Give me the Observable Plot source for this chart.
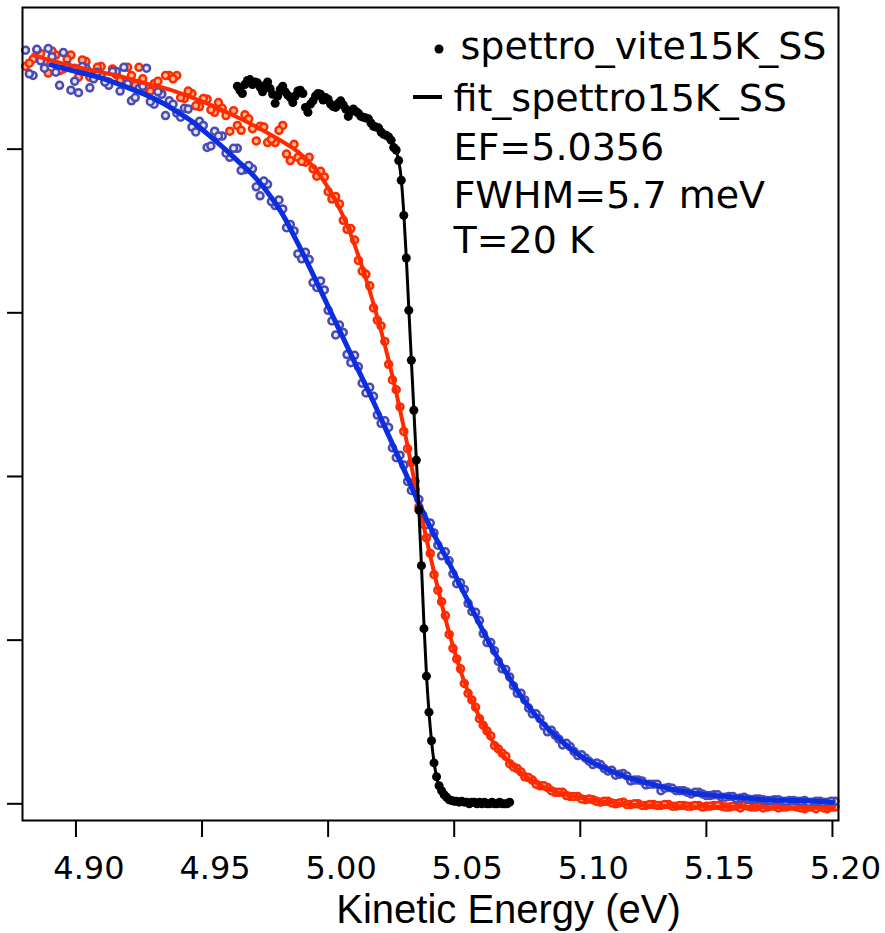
<!DOCTYPE html>
<html><head><meta charset="utf-8">
<script src="https://cdn.jsdelivr.net/npm/d3@7"></script>
<script src="https://cdn.jsdelivr.net/npm/@observablehq/plot@0.6"></script>
<style>
body{margin:0;background:#fff;}
#chart{width:885px;height:933px;}
</style></head><body><div id="chart"></div>
<script>
// ---- data (normalised intensity, tick spacing = 200) ----
const xTicks = [4.90, 4.95, 5.00, 5.05, 5.10, 5.15, 5.20];
const yTicks = [0, 200, 400, 600, 800];
const legendDataName = "spettro_vite15K_SS";
const legendFitName = "fit_spettro15K_SS";
const legendInfo = ["EF=5.0356", "FWHM=5.7 meV", "T=20 K"];
const xLabel = "Kinetic Energy (eV)";

// black: spettro_vite15K_SS (data) and its fit
const blackE = [4.964,4.965,4.966,4.967,4.968,4.969,4.970,4.971,4.972,4.973,4.974,4.975,4.976,4.977,4.978,4.979,4.980,4.981,4.982,4.983,4.984,4.985,4.986,4.987,4.988,4.989,4.990,4.991,4.992,4.993,4.994,4.995,4.996,4.997,4.998,4.999,5.000,5.001,5.002,5.003,5.004,5.005,5.006,5.007,5.008,5.009,5.010,5.011,5.012,5.013,5.014,5.015,5.016,5.017,5.018,5.019,5.020,5.021,5.022,5.023,5.024,5.025,5.026,5.027,5.028,5.029,5.030,5.031,5.032,5.033,5.034,5.035,5.036,5.037,5.038,5.039,5.040,5.041,5.042,5.043,5.044,5.045,5.046,5.047,5.048,5.049,5.050,5.051,5.052,5.053,5.054,5.055,5.056,5.057,5.058,5.059,5.060,5.061,5.062,5.063,5.064,5.065,5.066,5.067,5.068,5.069,5.070,5.071,5.072];
const blackI = [877,872,868,879,884,885,879,882,881,876,870,878,882,874,867,856,865,873,877,870,866,863,857,865,871,872,868,851,845,855,859,865,868,867,860,863,861,855,852,851,856,859,854,849,840,846,849,846,844,840,839,838,837,832,828,827,826,821,818,817,815,811,802,799,786,762,719,667,603,542,481,420,359,291,214,156,112,77,50,33,22,16,11,8,5,4,3,3,2,3,2,2,0,2,2,0,2,0,2,0,0,2,0,0,2,0,0,0,2];
const blackFitE = [5.026,5.027,5.028,5.029,5.030,5.031,5.032,5.033,5.034,5.035,5.036,5.037,5.038,5.039,5.040,5.041,5.042,5.043,5.044,5.045,5.046,5.048,5.050,5.055,5.072];
const blackFitI = [803,797,786,763,722,668,605,543,481,420,358,292,220,158,112,77,51,33,21,14,9,4,2,1,1];

// red and blue scans: two interleaved energy grids
const scanE = [4.880,4.883,4.886,4.889,4.892,4.895,4.898,4.901,4.904,4.907,4.910,4.913,4.916,4.919,4.922,4.925,4.928,4.931,4.934,4.937,4.940,4.943,4.946,4.949,4.952,4.955,4.958,4.961,4.964,4.967,4.970,4.973,4.976,4.979,4.982,4.985,4.988,4.991,4.994,4.997,5.000,5.003,5.006,5.009,5.012,5.015,5.018,5.021,5.024,5.027,5.030,5.033,5.036,5.039,5.042,5.045,5.048,5.051,5.054,5.057,5.060,5.063,5.066,5.069,5.072,5.075,5.078,5.081,5.084,5.087,5.090,5.093,5.096,5.099,5.102,5.105,5.108,5.111,5.114,5.117,5.120,5.123,5.126,5.129,5.132,5.135,5.138,5.141,5.144,5.147,5.150,5.153,5.156,5.159,5.162,5.165,5.168,5.171,5.174,5.177,5.180,5.183,5.186,5.189,5.192,5.195,5.198,5.201];
const scanE2 = [4.8815,4.8845,4.8875,4.8905,4.8935,4.8965,4.8995,4.9025,4.9055,4.9085,
  4.9115,4.9145,4.9175,4.9205,4.9235,4.9265,4.9295,4.9325,4.9355,4.9385,
  4.9415,4.9445,4.9475,4.9505,4.9535,4.9565,4.9595,4.9625,4.9655,4.9685,
  4.9715,4.9745,4.9775,4.9805,4.9835,4.9865,4.9895,4.9925,4.9955,4.9985,
  5.0015,5.0045,5.0075,5.0105,5.0135,5.0165,5.0195,5.0225,5.0255,5.0285,
  5.0315,5.0345,5.0375,5.0405,5.0435,5.0465,5.0495,5.0525,5.0555,5.0585,
  5.0615,5.0645,5.0675,5.0705,5.0735,5.0765,5.0795,5.0825,5.0855,5.0885,
  5.0915,5.0945,5.0975,5.1005,5.1035,5.1065,5.1095,5.1125,5.1155,5.1185,
  5.1215,5.1245,5.1275,5.1305,5.1335,5.1365,5.1395,5.1425,5.1455,5.1485,
  5.1515,5.1545,5.1575,5.1605,5.1635,5.1665,5.1695,5.1725,5.1755,5.1785,
  5.1815,5.1845,5.1875,5.1905,5.1935,5.1965,5.1995];
const blueI = [921,890,908,923,894,918,872,869,899,886,
  891,878,895,900,859,874,899,855,867,859,
  844,850,827,834,802,822,816,790,801,775,
  776,743,757,731,727,708,672,674,637,639,
  603,573,576,539,534,502,498,465,460,423,
  414,383,372,341,331,303,297,269,262,235,
  224,197,187,165,155,135,127,110,104,88,
  84,72,70,59,56,48,48,40,35,37,
  28,29,23,24,16,20,16,16,12,14,
  10,11,8,9,6,8,5,6,4,5,
  3,4,3,4,2,3,2,3];
const blueI2 = [892,922,899,913,878,902,883,901,875,894,
  882,895,871,880,863,877,858,870,841,855,
  839,849,821,829,804,816,795,801,774,780,
  754,761,736,738,704,700,666,665,631,628,
  590,585,549,548,514,509,475,468,435,426,
  394,384,353,343,316,308,281,270,245,234,
  208,197,174,164,144,135,117,110,95,90,
  79,74,64,60,52,50,43,41,36,34,
  29,28,24,24,19,19,16,14,14,12,
  10,11,8,9,7,6,6,5,4,5,
  3,4,3,2,3,2,3];
const redI = [901,910,917,893,915,898,915,888,907,890,
  901,882,891,880,890,900,875,880,868,890,
  890,862,868,852,861,845,850,822,829,842,
  825,828,808,808,829,786,790,784,776,773,
  748,742,713,703,664,647,606,584,537,506,
  455,417,363,325,280,247,207,177,147,127,
  104,89,71,62,49,43,33,29,22,20,
  14,14,9,9,5,5,2,3,0,2,
  -1,0,-2,-1,-2,-1,-3,-2,-3,-2,
  -3,-2,-3,-4,-3,-2,-4,-3,-4,-3,
  -4,-3,-4,-6,-4,-3,-6,-4];
const redI2 = [905,921,907,920,896,910,899,909,888,900,
  883,898,884,900,878,886,871,883,890,886,
  863,871,853,862,848,857,841,847,823,837,
  810,827,812,823,794,806,785,790,767,766,
  739,733,702,689,651,633,591,565,518,485,
  434,394,342,306,261,230,190,165,135,118,
  96,83,67,58,45,39,32,24,22,16,
  14,10,9,6,6,3,3,1,1,-1,
  0,-2,-1,-2,-1,-3,-2,-3,-2,-4,
  -3,-2,-4,-3,-5,-3,-4,-5,-3,-5,
  -4,-3,-5,-4,-6,-5,-4];
const blueFitE = [4.890,4.901,4.910,4.919,4.928,4.934,4.940,4.946,4.952,4.958,4.964,4.970,4.976,4.982,4.988,4.994,5.000,5.006,5.012,5.018,5.024,5.030,5.036,5.042,5.048,5.054,5.060,5.066,5.072,5.078,5.084,5.090,5.096,5.102,5.108,5.114,5.120,5.126,5.132,5.141,5.150,5.162,5.174,5.186,5.200];
const blueFitI = [903,894,887,877,866,857,846,834,819,803,786,769,747,720,685,647,608,569,530,491,450,409,367,329,294,257,220,185,153,125,102,84,68,55,46,38,31,26,21,15,11,8,5,4,2];
const redFitE = [4.883,4.892,4.901,4.910,4.919,4.928,4.937,4.946,4.955,4.964,4.973,4.982,4.988,4.994,5.000,5.006,5.012,5.018,5.024,5.030,5.036,5.042,5.048,5.054,5.060,5.066,5.072,5.078,5.084,5.090,5.096,5.102,5.108,5.120,5.140,5.170,5.200];
const redFitI = [915,907,900,894,888,880,873,863,852,839,825,809,797,779,753,718,670,611,542,460,367,283,209,149,106,73,50,34,23,15,10,6,3,-1,-3,-4,-5];

const zip = (E, I) => E.map((e, i) => ({e, v: I[i]}));
const black = zip(blackE, blackI), blackFit = zip(blackFitE, blackFitI);
const red = zip(scanE, redI).concat(zip(scanE2, redI2)), redFit = zip(redFitE, redFitI);
const blue = zip(scanE, blueI).concat(zip(scanE2, blueI2)), blueFit = zip(blueFitE, blueFitI);

const RED = "#ff2a00", BLUE_DOT = "#4a4ab5", BLUE_LINE = "#0a2ee0";
const legendStyle = {frameAnchor: "top-left", text: d => d, lineAnchor: "bottom", textAnchor: "start", fontSize: 38, fontFamily: "DejaVu Sans"};

const chart = Plot.plot({
  width: 885, height: 933,
  marginLeft: 22, marginRight: 47, marginTop: 7, marginBottom: 113,
  style: {fontFamily: "DejaVu Sans", background: "white", color: "black"},
  x: {domain: [4.8788, 5.2024]},
  y: {domain: [-20.4, 973.1]},
  marks: [
    Plot.axisX({ticks: xTicks, tickSize: 17, tickFormat: () => "", label: null, strokeWidth: 2}),
    Plot.axisY({ticks: yTicks, tickSize: 15, tickFormat: () => "", label: null, strokeWidth: 2}),
    Plot.text(xTicks, {x: d => d, text: d3.format(".2f"), frameAnchor: "bottom", dy: 36, dx: 13, lineAnchor: "top", fontSize: 32, fontFamily: "DejaVu Sans"}),
    Plot.text([xLabel], {frameAnchor: "bottom", text: d => d, dx: 78, dy: 102, lineAnchor: "bottom", fontSize: 40, fontFamily: "Liberation Sans"}),
    Plot.dot(red, {x: "e", y: "v", r: 3.5, stroke: RED, strokeWidth: 2.5, fill: "#ffb888"}),
    Plot.dot(blue, {x: "e", y: "v", r: 3.5, stroke: BLUE_DOT, strokeWidth: 2.5, fill: "#e4e4f8"}),
    Plot.line(redFit, {x: "e", y: "v", stroke: RED, strokeWidth: 4, curve: "monotone-x"}),
    Plot.line(blueFit, {x: "e", y: "v", stroke: BLUE_LINE, strokeWidth: 5, curve: "monotone-x"}),
    Plot.dot(black, {x: "e", y: "v", r: 4.5, fill: "black"}),
    Plot.line(blackFit, {x: "e", y: "v", stroke: "black", strokeWidth: 3, curve: "monotone-x"}),
    Plot.text([legendDataName], {...legendStyle, dx: 438, dy: 51}),
    Plot.text([legendFitName], {...legendStyle, dx: 431, dy: 103}),
    Plot.text([legendInfo[0]], {...legendStyle, dx: 431, dy: 152}),
    Plot.text([legendInfo[1]], {...legendStyle, dx: 431, dy: 200}),
    Plot.text([legendInfo[2]], {...legendStyle, dx: 431, dy: 245}),
    Plot.frame({stroke: "black", strokeWidth: 2})
  ]
});

// legend symbols
const g = d3.select(chart).append("g");
g.append("circle").attr("cx", 439).attr("cy", 49).attr("r", 4.5).attr("fill", "black");
g.append("line").attr("x1", 413).attr("x2", 442).attr("y1", 97).attr("y2", 97).attr("stroke", "black").attr("stroke-width", 4);

document.getElementById("chart").appendChild(chart);
</script></body></html>
